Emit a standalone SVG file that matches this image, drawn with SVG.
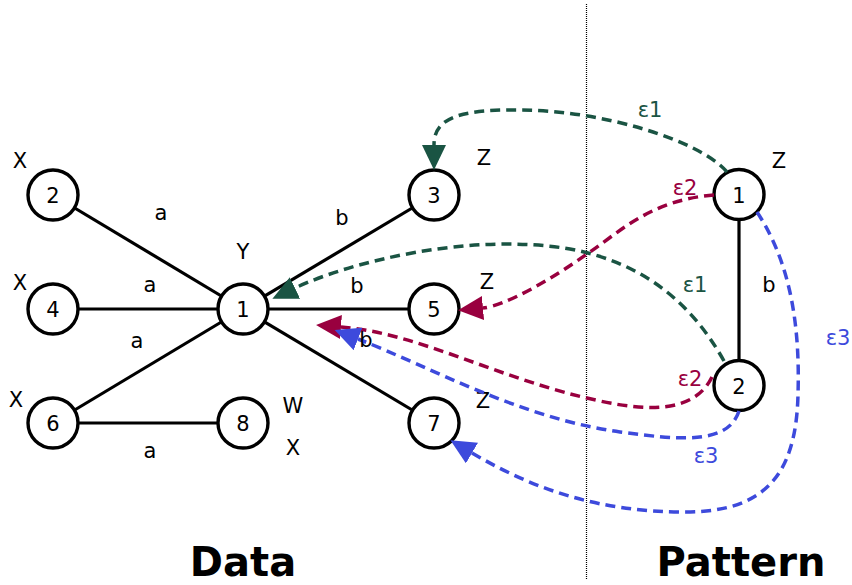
<svg xmlns="http://www.w3.org/2000/svg" width="852" height="585" viewBox="0 0 852 585">
<style>
  .edge { stroke: #000; stroke-width: 3.2; fill: none; }
  .node circle { fill: #fff; stroke: #000; stroke-width: 3.4; }
  .node text, .lbl { font-family: "DejaVu Sans", sans-serif; font-size: 21px; fill: #000; text-anchor: middle; }
  .map { fill: none; stroke-width: 3.5; stroke-dasharray: 10 6; }
  .g1 { stroke: #1a5443; }
  .r2 { stroke: #99003f; }
  .b3 { stroke: #3d4adc; }
  .title { font-family: "DejaVu Sans", sans-serif; font-size: 40px; font-weight: bold; text-anchor: middle; fill: #000; }
</style>
<defs>
  <marker id="ag" markerUnits="userSpaceOnUse" markerWidth="25" markerHeight="24" viewBox="0 0 25 24" refX="0" refY="12" orient="auto"><path d="M0,0 L25,12 L0,24 z" fill="#1a5443"/></marker>
  <marker id="ar" markerUnits="userSpaceOnUse" markerWidth="25" markerHeight="24" viewBox="0 0 25 24" refX="0" refY="12" orient="auto"><path d="M0,0 L25,12 L0,24 z" fill="#99003f"/></marker>
  <marker id="ab" markerUnits="userSpaceOnUse" markerWidth="25" markerHeight="24" viewBox="0 0 25 24" refX="0" refY="12" orient="auto"><path d="M0,0 L25,12 L0,24 z" fill="#3d4adc"/></marker>
</defs>
<rect width="852" height="585" fill="#fff"/>
<line x1="586.5" y1="4" x2="586.5" y2="580" stroke="#000" stroke-width="1.2" stroke-dasharray="1 1"/>
<g id="connectors">
  <line class="edge" x1="53" y1="195" x2="243" y2="309"/>
  <line class="edge" x1="53" y1="309" x2="243" y2="309"/>
  <line class="edge" x1="53" y1="423" x2="243" y2="309"/>
  <line class="edge" x1="53" y1="423" x2="243" y2="423"/>
  <line class="edge" x1="243" y1="309" x2="434" y2="195"/>
  <line class="edge" x1="243" y1="309" x2="434" y2="309"/>
  <line class="edge" x1="243" y1="309" x2="434" y2="423"/>
  <line class="edge" x1="739" y1="194.5" x2="739" y2="385.5"/>
</g>
<g id="node-d2" class="node"><circle cx="53" cy="195" r="25"/><text x="53" y="203">2</text><text x="20" y="168">X</text></g>
<g id="node-d4" class="node"><circle cx="53" cy="309" r="25"/><text x="53" y="317">4</text><text x="20" y="290">X</text></g>
<g id="node-d6" class="node"><circle cx="53" cy="423" r="25"/><text x="53" y="431">6</text><text x="16" y="407">X</text></g>
<g id="node-d1" class="node"><circle cx="243" cy="309" r="25"/><text x="243" y="317">1</text><text x="243" y="259">Y</text></g>
<g id="node-d8" class="node"><circle cx="243" cy="423" r="25"/><text x="243" y="431">8</text><text x="293" y="413">W</text><text x="293" y="455">X</text></g>
<g id="node-d3" class="node"><circle cx="434" cy="195" r="25"/><text x="434" y="203">3</text><text x="484" y="165">Z</text></g>
<g id="node-d5" class="node"><circle cx="434" cy="309" r="25"/><text x="434" y="317">5</text><text x="487" y="289">Z</text></g>
<g id="node-d7" class="node"><circle cx="434" cy="423" r="25"/><text x="434" y="431">7</text><text x="483" y="408">Z</text></g>
<g id="node-p1" class="node"><circle cx="739" cy="194.5" r="25"/><text x="739" y="202.5">1</text><text x="779" y="168">Z</text></g>
<g id="node-p2" class="node"><circle cx="739" cy="385.5" r="25"/><text x="739" y="393.5">2</text></g>
<g id="mappings">
  <path class="map g1" d="M727,172 C700,140 600,110 520,110 C455,109 434,120 434,145" marker-end="url(#ag)"/>
  <path class="map g1" d="M724,361 C690,300 640,262 570,249 C470,232 350,262 295,288" marker-end="url(#ag)"/>
  <path class="map r2" d="M714,195 C650,200 620,232 587,254 C552,279 505,306 483,308" marker-end="url(#ar)"/>
  <path class="map r2" d="M712,377 C695,412 650,412 600,401 C500,380 420,333 341,327" marker-end="url(#ar)"/>
  <path class="map b3" d="M739,411 C728,445 680,440 620,432 C520,418 430,367 358,339" marker-end="url(#ab)"/>
  <path class="map b3" d="M757,212 C792,265 800,330 798,395 C796,475 765,512 685,512 C600,512 535,490 472,453" marker-end="url(#ab)"/>
</g>
<g id="labels">
  <text class="lbl" x="161" y="220">a</text>
  <text class="lbl" x="150" y="292">a</text>
  <text class="lbl" x="137" y="348">a</text>
  <text class="lbl" x="150" y="458">a</text>
  <text class="lbl" x="342" y="225">b</text>
  <text class="lbl" x="357" y="293">b</text>
  <text class="lbl" x="366" y="347">b</text>
  <text class="lbl" x="769" y="292">b</text>
  <text class="lbl" x="650" y="117" style="fill:#1a5443">ε1</text>
  <text class="lbl" x="685" y="195" style="fill:#99003f">ε2</text>
  <text class="lbl" x="695" y="292" style="fill:#1a5443">ε1</text>
  <text class="lbl" x="690" y="386" style="fill:#99003f">ε2</text>
  <text class="lbl" x="838" y="345" style="fill:#3d4adc">ε3</text>
  <text class="lbl" x="706" y="463" style="fill:#3d4adc">ε3</text>
  <text class="title" x="243" y="576">Data</text>
  <text class="title" x="741" y="576">Pattern</text>
</g>
</svg>
